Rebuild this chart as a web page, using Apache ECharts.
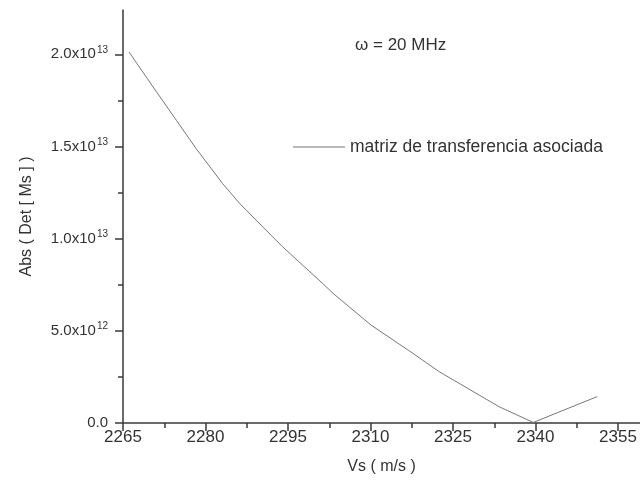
<!DOCTYPE html>
<html>
<head>
<meta charset="utf-8">
<script src="https://cdn.jsdelivr.net/npm/echarts@6/dist/echarts.min.js"></script>
<style>
  html, body { margin: 0; padding: 0; background: #fff; }
  #chart { width: 640px; height: 486px; }
</style>
</head>
<body>
<div id="chart"></div>
<script>
// Shear velocity (m/s) and |det(M)| of the associated transfer matrix at 20 MHz
const vs = [2266.1, 2271.0, 2274.7, 2278.3, 2283.1, 2286.2, 2290.4, 2294.0, 2301.3,
            2303.2, 2310.1, 2317.7, 2322.5, 2333.4, 2339.6, 2351.2];
const absDet = [20.12e12, 18.00e12, 16.42e12, 14.88e12, 12.99e12, 11.91e12, 10.64e12,
                9.56e12, 7.57e12, 7.03e12, 5.31e12, 3.78e12, 2.78e12, 0.88e12,
                0.03e12, 1.43e12];

const xTicks = [2265, 2280, 2295, 2310, 2325, 2340, 2355];
const xMinorTicks = [2272.5, 2287.5, 2302.5, 2317.5, 2332.5, 2347.5];
const yTicks = [0, 5e12, 1e13, 1.5e13, 2e13];
const yMinorTicks = [2.5e12, 7.5e12, 1.25e13, 1.75e13];

const seriesName = 'matriz de transferencia asociada';
const noteText = 'ω = 20 MHz';

const axisColor = '#3a3a3a';
const textColor = '#333';
const font = 'Liberation Sans, Arial, sans-serif';

// "2.0x10^13" style labels with a raised exponent
function sciLabel(v) {
  if (v === 0) return '{m|0.0}';
  const e = Math.floor(Math.log10(v) + 1e-9);
  const m = v / Math.pow(10, e);
  return '{m|' + m.toFixed(1) + 'x10}{e|' + e + '}';
}

const chart = echarts.init(document.getElementById('chart'));
chart.setOption({
  animation: false,
  backgroundColor: '#fff',
  grid: { left: 123, right: 0, top: 10, bottom: 63, containLabel: false },
  legend: {
    data: [seriesName],
    left: 293, top: 138,
    padding: 0,
    icon: 'rect',
    itemWidth: 52, itemHeight: 1,
    textStyle: { fontFamily: font, fontSize: 17.5, color: textColor }
  },
  xAxis: [{
    type: 'value',
    min: 2265, max: 2359,
    name: 'Vs ( m/s )',
    nameLocation: 'middle',
    nameGap: 36,
    nameTextStyle: { fontFamily: font, fontSize: 16, color: textColor },
    axisLine: { show: true, onZero: false, lineStyle: { color: axisColor, width: 1.5 } },
    axisTick: { show: true, customValues: xTicks, length: 8, lineStyle: { color: axisColor, width: 1.5 } },
    axisLabel: {
      customValues: xTicks, margin: 6,
      formatter: v => String(v),
      fontFamily: font, fontSize: 17, color: textColor
    },
    splitLine: { show: false }
  }, {
    type: 'value',
    min: 2265, max: 2359,
    position: 'bottom',
    axisLine: { show: false },
    axisTick: { show: true, customValues: xMinorTicks, length: 5, lineStyle: { color: axisColor, width: 1.5 } },
    axisLabel: { show: false },
    splitLine: { show: false }
  }],
  yAxis: [{
    type: 'value',
    min: 0, max: 2.24e13,
    name: 'Abs ( Det [ Ms ] )',
    nameLocation: 'middle',
    nameGap: 88,
    nameTextStyle: { fontFamily: font, fontSize: 16, color: textColor },
    axisLine: { show: true, onZero: false, lineStyle: { color: axisColor, width: 1.5 } },
    axisTick: { show: true, customValues: yTicks, length: 8, lineStyle: { color: axisColor, width: 1.5 } },
    axisLabel: {
      customValues: yTicks,
      margin: 15,
      formatter: sciLabel,
      rich: {
        m: { fontFamily: font, fontSize: 15, color: textColor },
        e: { fontFamily: font, fontSize: 10, color: textColor, padding: [0, 0, 9, 1] }
      }
    },
    splitLine: { show: false }
  }, {
    type: 'value',
    min: 0, max: 2.24e13,
    position: 'left',
    axisLine: { show: false },
    axisTick: { show: true, customValues: yMinorTicks, length: 5, lineStyle: { color: axisColor, width: 1.5 } },
    axisLabel: { show: false },
    splitLine: { show: false }
  }],
  graphic: [{
    type: 'text',
    left: 355, top: 37,
    style: {
      text: noteText,
      fontFamily: font,
      fontSize: 17,
      fill: textColor
    }
  }],
  series: [{
    name: seriesName,
    type: 'line',
    xAxisIndex: 0,
    yAxisIndex: 0,
    data: vs.map((x, i) => [x, absDet[i]]),
    showSymbol: false,
    symbol: 'none',
    lineStyle: { color: '#777', width: 1 },
    itemStyle: { color: '#777' }
  }]
});
</script>
</body>
</html>
